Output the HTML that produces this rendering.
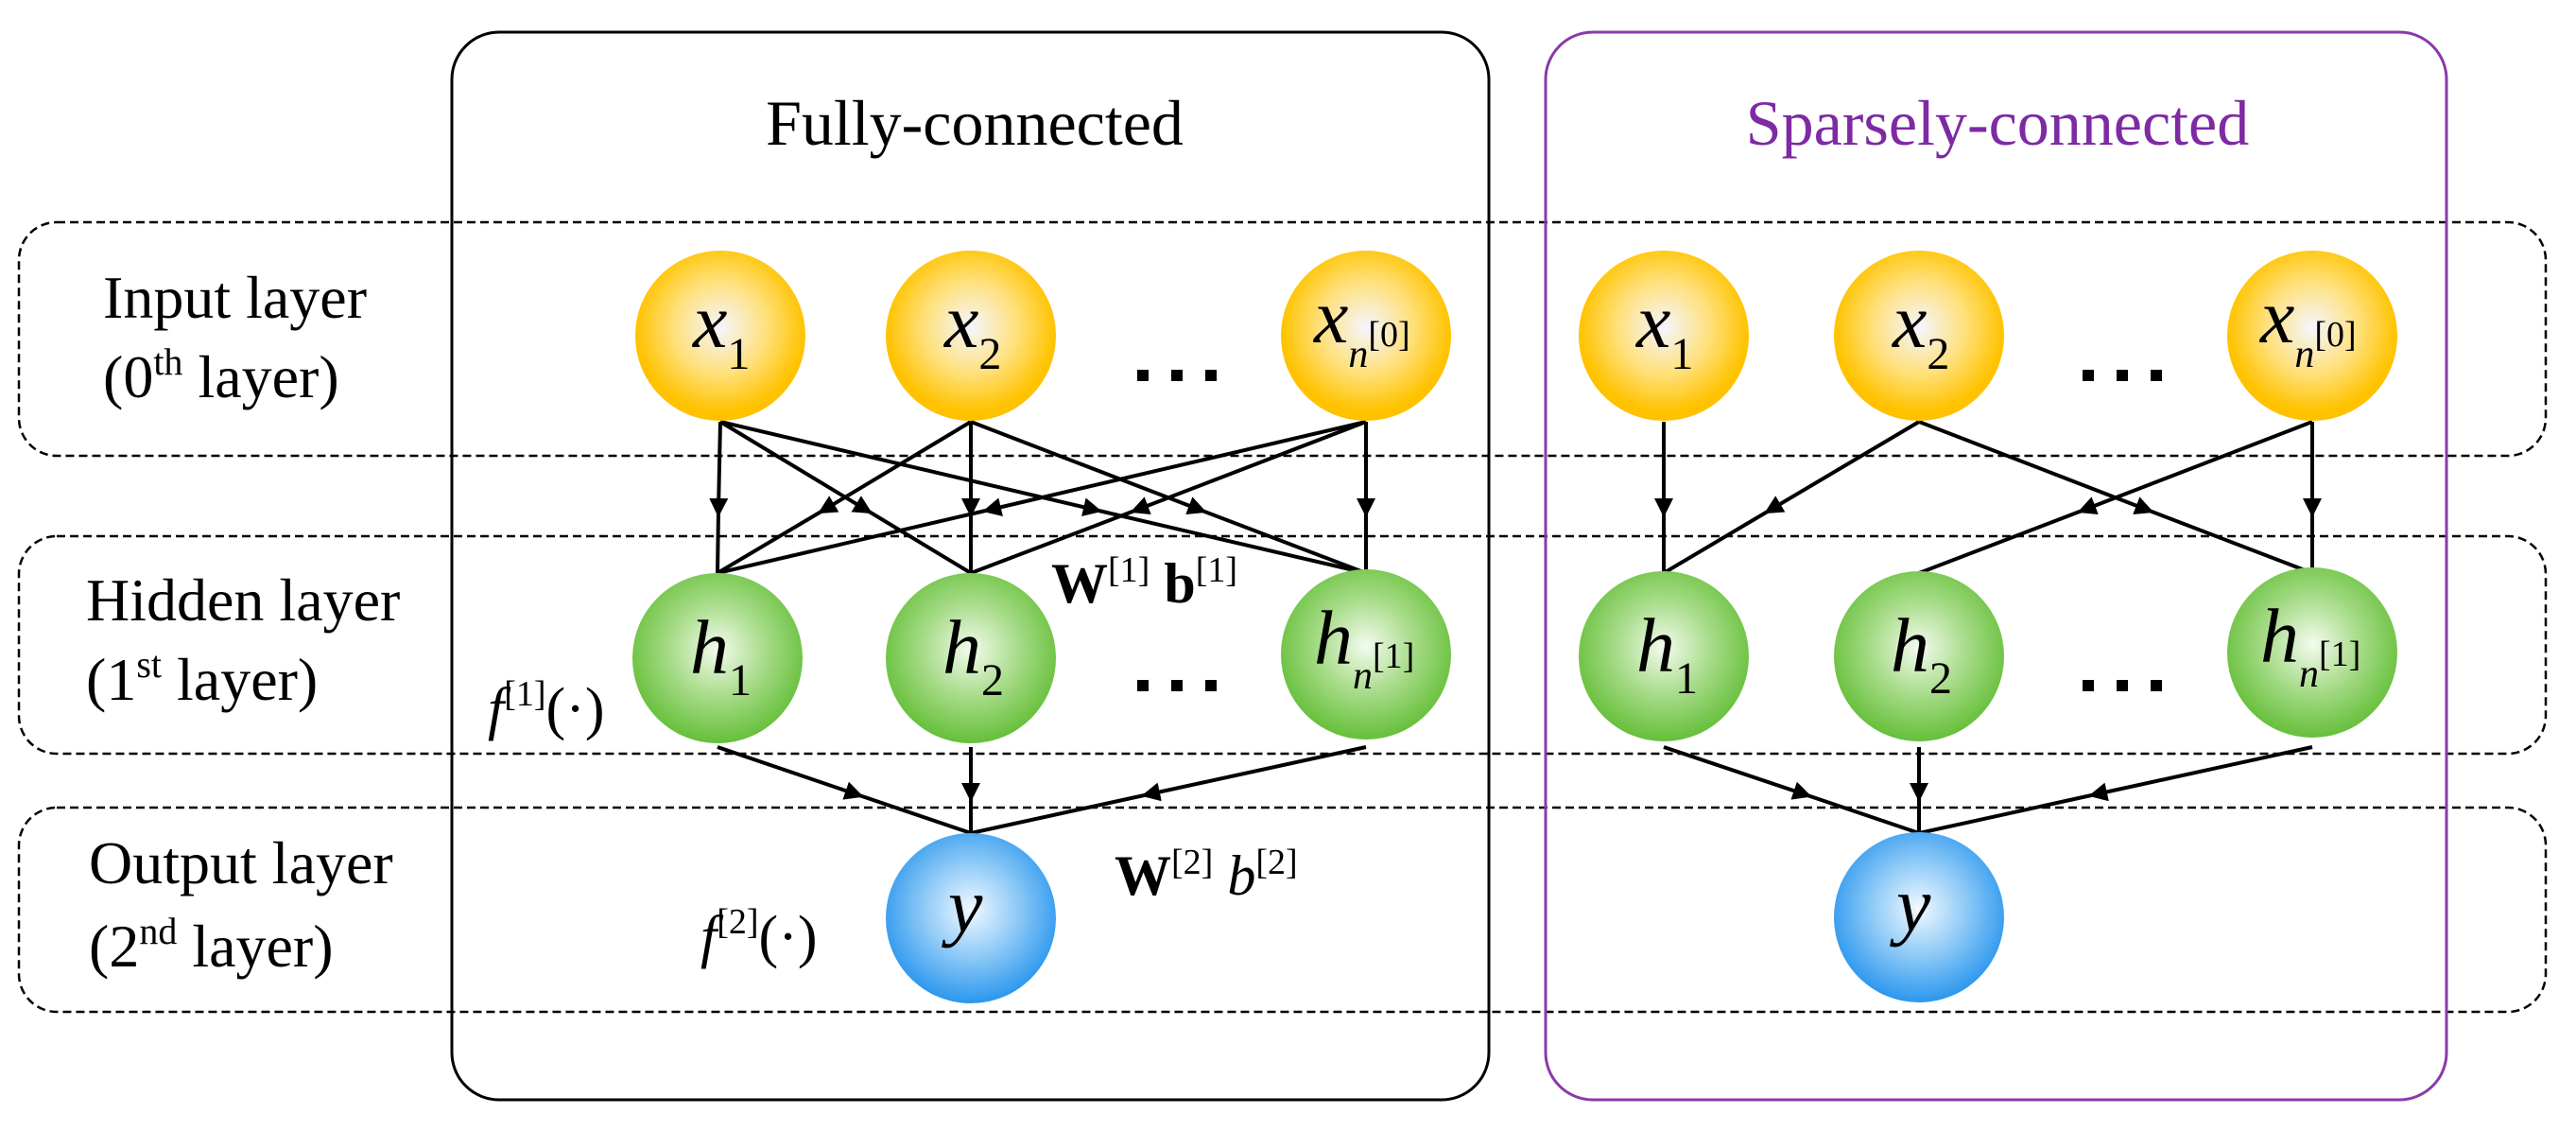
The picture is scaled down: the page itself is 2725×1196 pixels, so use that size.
<!DOCTYPE html>
<html><head><meta charset="utf-8"><style>
html,body{margin:0;padding:0;background:#fff}
svg{display:block;font-family:"Liberation Serif","Times New Roman","DejaVu Serif",serif}
svg text{font-family:"Liberation Serif","Times New Roman","DejaVu Serif",serif;fill:#000}
.it{font-style:italic}
</style></head><body>
<svg width="2725" height="1196" viewBox="0 0 2725 1196" xmlns="http://www.w3.org/2000/svg" font-family="Liberation Serif, Times New Roman, DejaVu Serif, serif">
<defs>
<radialGradient id="go" cx="0.5" cy="0.45" r="0.55"><stop offset="0" stop-color="#f4f6ff"/><stop offset="0.5" stop-color="#ffe07a"/><stop offset="0.9" stop-color="#ffc300"/><stop offset="1" stop-color="#ffc000"/></radialGradient>
<radialGradient id="gg" cx="0.5" cy="0.45" r="0.55"><stop offset="0" stop-color="#f4fbef"/><stop offset="0.5" stop-color="#a8dc8a"/><stop offset="1" stop-color="#66bf3a"/></radialGradient>
<radialGradient id="gb" cx="0.5" cy="0.45" r="0.55"><stop offset="0" stop-color="#f2f9ff"/><stop offset="0.5" stop-color="#8fcaf7"/><stop offset="1" stop-color="#2b97ee"/></radialGradient>
<marker id="ar" viewBox="0 0 10 10" refX="6" refY="5" markerWidth="5" markerHeight="5" markerUnits="strokeWidth" orient="auto"><path d="M0,0 L10,5 L0,10 z" fill="#000"/></marker>
</defs>

<g fill="none" stroke="#000" stroke-width="2.5" stroke-dasharray="9,5">
<rect x="20" y="235" width="2673" height="247" rx="40"/>
<rect x="20" y="567" width="2673" height="230" rx="40"/>
<rect x="20" y="854" width="2673" height="216" rx="40"/>
</g>
<rect x="478" y="34" width="1097" height="1129" rx="50" fill="none" stroke="#000" stroke-width="3"/>
<rect x="1635" y="34" width="953" height="1129" rx="50" fill="none" stroke="#8a3aaa" stroke-width="3"/>

<text x="1031" y="153" font-size="68" text-anchor="middle">Fully-connected</text>
<text x="2113" y="153" font-size="68" text-anchor="middle" style="fill:#7d2aa3">Sparsely-connected</text>

<g font-size="64">
<text x="109" y="336">Input layer</text>
<text x="109" y="420">(0<tspan font-size="40" dy="-24">th</tspan><tspan dy="24"> layer)</tspan></text>
<text x="91" y="656">Hidden layer</text>
<text x="91" y="740">(1<tspan font-size="40" dy="-24">st</tspan><tspan dy="24"> layer)</tspan></text>
<text x="94" y="934">Output layer</text>
<text x="94" y="1022">(2<tspan font-size="40" dy="-24">nd</tspan><tspan dy="24"> layer)</tspan></text>
</g>

<g fill="none" stroke="#000" stroke-width="4" marker-mid="url(#ar)">
<path d="M762,446 L760,539 L759,606"/>
<path d="M762,446 L916,539 L1027,606"/>
<path d="M762,446 L1158,539 L1445,606"/>
<path d="M1027,446 L872,539 L759,606"/>
<path d="M1027,446 L1027,539 L1027,606"/>
<path d="M1027,446 L1269,539 L1445,606"/>
<path d="M1445,446 L1047,539 L759,606"/>
<path d="M1445,446 L1203,539 L1027,606"/>
<path d="M1445,446 L1445,539 L1445,606"/>
<path d="M759,790 L906,840 L1027,881"/>
<path d="M1027,790 L1027,840 L1027,881"/>
<path d="M1445,790 L1215,840 L1027,881"/>

<path d="M1760,446 L1760,539 L1760,606"/>
<path d="M2030,446 L1873,539 L1760,606"/>
<path d="M2030,446 L2271,539 L2446,606"/>
<path d="M2446,446 L2205,539 L2030,606"/>
<path d="M2446,446 L2446,539 L2446,606"/>
<path d="M1760,790 L1909,840 L2030,881"/>
<path d="M2030,790 L2030,840 L2030,881"/>
<path d="M2446,790 L2217,840 L2030,881"/>
</g>

<g>
<circle cx="762" cy="355" r="90" fill="url(#go)"/>
<circle cx="1027" cy="355" r="90" fill="url(#go)"/>
<circle cx="1445" cy="355" r="90" fill="url(#go)"/>
<circle cx="759" cy="696" r="90" fill="url(#gg)"/>
<circle cx="1027" cy="696" r="90" fill="url(#gg)"/>
<circle cx="1445" cy="692" r="90" fill="url(#gg)"/>
<circle cx="1027" cy="971" r="90" fill="url(#gb)"/>
<circle cx="1760" cy="355" r="90" fill="url(#go)"/>
<circle cx="2030" cy="355" r="90" fill="url(#go)"/>
<circle cx="2446" cy="355" r="90" fill="url(#go)"/>
<circle cx="1760" cy="694" r="90" fill="url(#gg)"/>
<circle cx="2030" cy="694" r="90" fill="url(#gg)"/>
<circle cx="2446" cy="690" r="90" fill="url(#gg)"/>
<circle cx="2030" cy="970" r="90" fill="url(#gb)"/>
</g>

<g font-size="82">
<text x="733" y="367" class="it">x<tspan font-size="48" font-style="normal" dy="23">1</tspan></text>
<text x="999" y="367" class="it">x<tspan font-size="48" font-style="normal" dy="23">2</tspan></text>
<text x="1390" y="362" class="it">x<tspan font-size="42" dy="26">n</tspan><tspan font-size="38" font-style="normal" dy="-22">[0]</tspan></text>
<text x="730" y="712" class="it">h<tspan font-size="48" font-style="normal" dy="23">1</tspan></text>
<text x="997" y="712" class="it">h<tspan font-size="48" font-style="normal" dy="23">2</tspan></text>
<text x="1390" y="702" class="it">h<tspan font-size="42" dy="26">n</tspan><tspan font-size="38" font-style="normal" dy="-22">[1]</tspan></text>
<text x="1003" y="985" class="it">y</text>

<text x="1731" y="367" class="it">x<tspan font-size="48" font-style="normal" dy="23">1</tspan></text>
<text x="2002" y="367" class="it">x<tspan font-size="48" font-style="normal" dy="23">2</tspan></text>
<text x="2391" y="362" class="it">x<tspan font-size="42" dy="26">n</tspan><tspan font-size="38" font-style="normal" dy="-22">[0]</tspan></text>
<text x="1731" y="710" class="it">h<tspan font-size="48" font-style="normal" dy="23">1</tspan></text>
<text x="2000" y="710" class="it">h<tspan font-size="48" font-style="normal" dy="23">2</tspan></text>
<text x="2391" y="700" class="it">h<tspan font-size="42" dy="26">n</tspan><tspan font-size="38" font-style="normal" dy="-22">[1]</tspan></text>
<text x="2006" y="984" class="it">y</text>
</g>

<g fill="#000">
<rect x="1203" y="391" width="12" height="12"/><rect x="1239" y="391" width="12" height="12"/><rect x="1275" y="391" width="12" height="12"/>
<rect x="1203" y="719" width="12" height="12"/><rect x="1239" y="719" width="12" height="12"/><rect x="1275" y="719" width="12" height="12"/>
<rect x="2203" y="391" width="12" height="12"/><rect x="2239" y="391" width="12" height="12"/><rect x="2275" y="391" width="12" height="12"/>
<rect x="2203" y="719" width="12" height="12"/><rect x="2239" y="719" width="12" height="12"/><rect x="2275" y="719" width="12" height="12"/>
</g>

<text x="1112" y="637" font-size="60" font-weight="bold">W<tspan font-size="38" font-weight="normal" dy="-22">[1]</tspan><tspan dy="22"> b</tspan><tspan font-size="38" font-weight="normal" dy="-22">[1]</tspan></text>
<text x="516" y="770" font-size="62"><tspan class="it">f</tspan><tspan font-size="38" dy="-24">[1]</tspan><tspan dy="24">(·)</tspan></text>
<text x="1179" y="946" font-size="60"><tspan font-weight="bold">W</tspan><tspan font-size="38" dy="-22">[2]</tspan><tspan dy="22"> </tspan><tspan class="it">b</tspan><tspan font-size="38" dy="-22">[2]</tspan></text>
<text x="741" y="1011" font-size="62"><tspan class="it">f</tspan><tspan font-size="38" dy="-24">[2]</tspan><tspan dy="24">(·)</tspan></text>
</svg>
</body></html>
